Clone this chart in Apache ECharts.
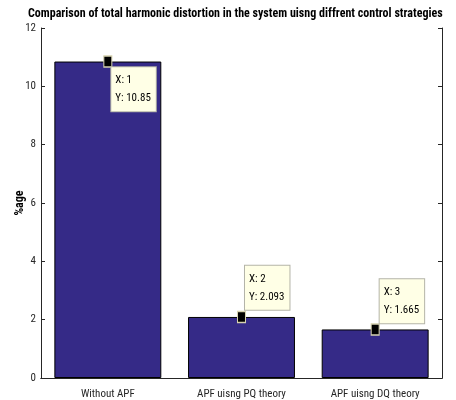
<!DOCTYPE html>
<html>
<head>
<meta charset="utf-8">
<script src="https://cdn.jsdelivr.net/npm/echarts@6/dist/echarts.min.js"></script>
<style>
  html, body { margin: 0; padding: 0; background: #fff; }
  #chart { width: 456px; height: 400px; }
</style>
</head>
<body>
<div id="chart"></div>
<script>
// Total harmonic distortion (%) for each control strategy
const categories = ['Without APF', 'APF uisng PQ theory', 'APF uisng DQ theory'];
const thd = [10.85, 2.093, 1.665];
const yTicks = { min: 0, max: 12, interval: 2 };

const FONT = '"Roboto Condensed", "Liberation Sans Narrow", "Liberation Sans", sans-serif';
const AXIS_COLOR = '#262626';

// data-tip box placement (relative to the marker), one per bar
const tipPlacement = [[8, 12], [8, -45], [9, -44]];

const tipData = thd.map((v, i) => ({
  value: [i, v],
  label: { position: tipPlacement[i] }
}));

const chart = echarts.init(document.getElementById('chart'), null, { renderer: 'canvas' });

const tickStyle = { inside: true, length: 4, lineStyle: { color: AXIS_COLOR, width: 1 } };

chart.setOption({
  animation: false,
  backgroundColor: '#ffffff',
  title: {
    text: 'Comparison of total harmonic distortion in the system uisng diffrent control strategies',
    left: 28,
    top: 8,
    padding: 0,
    textStyle: { fontFamily: FONT, fontWeight: 'bold', fontSize: 12, color: '#000' }
  },
  grid: { left: 41, right: 14, top: 28, bottom: 22, outerBoundsMode: 'none', containLabel: false },
  xAxis: [
    {
      type: 'category',
      data: categories,
      position: 'bottom',
      z: 4,
      axisLine: { lineStyle: { color: AXIS_COLOR, width: 1 } },
      axisTick: Object.assign({ alignWithLabel: true }, tickStyle),
      axisLabel: { interval: 0, fontFamily: FONT, fontSize: 11, color: AXIS_COLOR, margin: 11 },
      splitLine: { show: false }
    },
    {
      type: 'category',
      data: categories,
      position: 'top',
      z: 4,
      axisLine: { show: true, lineStyle: { color: AXIS_COLOR, width: 1 } },
      axisTick: Object.assign({ alignWithLabel: true }, tickStyle),
      axisLabel: { show: false },
      splitLine: { show: false }
    }
  ],
  yAxis: [
    {
      type: 'value',
      min: yTicks.min,
      max: yTicks.max,
      interval: yTicks.interval,
      position: 'left',
      z: 4,
      name: '%age',
      nameLocation: 'middle',
      nameGap: 15,
      nameMoveOverlap: false,
      nameTextStyle: { fontFamily: FONT, fontWeight: 'bold', fontSize: 12, color: '#000' },
      axisLine: { show: true, lineStyle: { color: AXIS_COLOR, width: 1 } },
      axisTick: Object.assign({ show: true }, tickStyle),
      axisLabel: { fontFamily: FONT, fontSize: 11, color: AXIS_COLOR, margin: 5 },
      splitLine: { show: false }
    },
    {
      type: 'value',
      min: yTicks.min,
      max: yTicks.max,
      interval: yTicks.interval,
      position: 'right',
      z: 4,
      axisLine: { show: true, lineStyle: { color: AXIS_COLOR, width: 1 } },
      axisTick: Object.assign({ show: true }, tickStyle),
      axisLabel: { show: false },
      splitLine: { show: false }
    }
  ],
  series: [
    {
      type: 'bar',
      data: thd,
      barWidth: '80%',
      itemStyle: { color: '#352A87', borderColor: '#000', borderWidth: 1 },
      z: 2
    },
    {
      type: 'scatter',
      data: tipData,
      symbol: 'rect',
      symbolSize: [8, 11],
      itemStyle: { color: '#000', borderColor: '#d6d2b0', borderWidth: 1.2, opacity: 1 },
      label: {
        show: true,
        formatter: p => 'X: ' + (p.value[0] + 1) + '\nY: ' + p.value[1],
        fontFamily: FONT,
        fontSize: 11,
        lineHeight: 18,
        color: '#000',
        align: 'left',
        verticalAlign: 'top',
        backgroundColor: '#FFFFE6',
        borderColor: '#b4b4a8',
        borderWidth: 1,
        padding: [4, 5, 4, 4]
      },
      z: 5
    }
  ]
});
</script>
</body>
</html>
